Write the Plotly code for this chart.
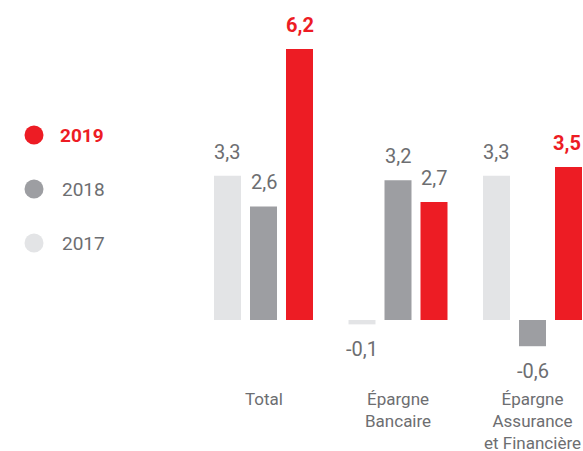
import plotly.graph_objects as go

categories = ["Total", "Épargne<br>Bancaire", "Épargne<br>Assurance<br>et Financière"]
years = ["2017", "2018", "2019"]
values_2017 = [3.3, -0.1, 3.3]
values_2018 = [2.6, 3.2, -0.6]
values_2019 = [6.2, 2.7, 3.5]
series_values = [values_2017, values_2018, values_2019]
colors = ["#e3e4e6", "#9d9ea2", "#ed1c24"]
gray_text = "#6d6e71"
red = "#ed1c24"
highlight = {(2, 0), (2, 2)}

W, H = 583, 451
FONT = "Roboto"

fig = go.Figure()
for yr, vals, col in zip(years, series_values, colors):
    fig.add_trace(go.Bar(
        x=list(range(len(categories))), y=vals, name=yr,
        marker=dict(color=col, line=dict(width=0)),
        showlegend=False, hoverinfo="skip",
    ))

px_per_cat = 134.5
bargap = 0.197
slot = px_per_cat * (1 - bargap) / 3

annotations = []
for si, (yr, vals) in enumerate(zip(years, series_values)):
    for ci, v in enumerate(vals):
        txt = f"{v:.1f}".replace(".", ",")
        hl = (si, ci) in highlight
        annotations.append(dict(
            x=ci, y=v, xref="x", yref="y",
            text=f"<b>{txt}</b>" if hl else txt,
            showarrow=False, xanchor="center", yanchor="middle",
            xshift=(si - 1) * slot - (2 if (si == 2 and ci == 2) else 0),
            yshift=24 if v >= 0 else -25,
            font=dict(family=FONT, size=20, color=red if hl else gray_text),
        ))

for ci, cat in enumerate(categories):
    annotations.append(dict(
        x=ci, y=-1.53, xref="x", yref="y", text=cat, showarrow=False,
        xanchor="center", yanchor="top", align="center",
        font=dict(family=FONT, size=17, color=gray_text),
    ))

shapes = []
legend_y = [135, 189, 243]
for k, si in enumerate([2, 1, 0]):
    cy = legend_y[k]
    cx = 34
    r = 9.5
    shapes.append(dict(
        type="circle", xref="paper", yref="paper",
        x0=(cx - r) / W, x1=(cx + r) / W,
        y0=1 - (cy + r) / H, y1=1 - (cy - r) / H,
        fillcolor=colors[si], line=dict(width=0),
    ))
    bold = si == 2
    annotations.append(dict(
        x=(58 if bold else 60) / W, y=1 - cy / H, xref="paper", yref="paper",
        text=f"<b>{years[si]}</b>" if bold else years[si],
        showarrow=False, xanchor="left", yanchor="middle",
        font=dict(family=FONT, size=19, color=red if bold else gray_text),
    ))

zero_px = 320
px_per_unit = 43.7
center0 = 263.5

fig.update_layout(
    width=W, height=H,
    margin=dict(l=0, r=0, t=0, b=0),
    paper_bgcolor="white", plot_bgcolor="white",
    barmode="group", bargap=bargap, bargroupgap=0.25,
    xaxis=dict(
        range=[-center0 / px_per_cat, (W - center0) / px_per_cat],
        showgrid=False, zeroline=False, showticklabels=False, ticks="",
        showline=False, fixedrange=True,
    ),
    yaxis=dict(
        range=[-(H - zero_px) / px_per_unit, zero_px / px_per_unit],
        showgrid=False, zeroline=False, showticklabels=False, ticks="",
        showline=False, fixedrange=True,
    ),
    annotations=annotations, shapes=shapes,
    font=dict(family=FONT),
)

fig.write_html(
    "out.html",
    config={"displayModeBar": False},
    post_script="document.body.style.margin='0';document.body.style.overflow='hidden';",
)
